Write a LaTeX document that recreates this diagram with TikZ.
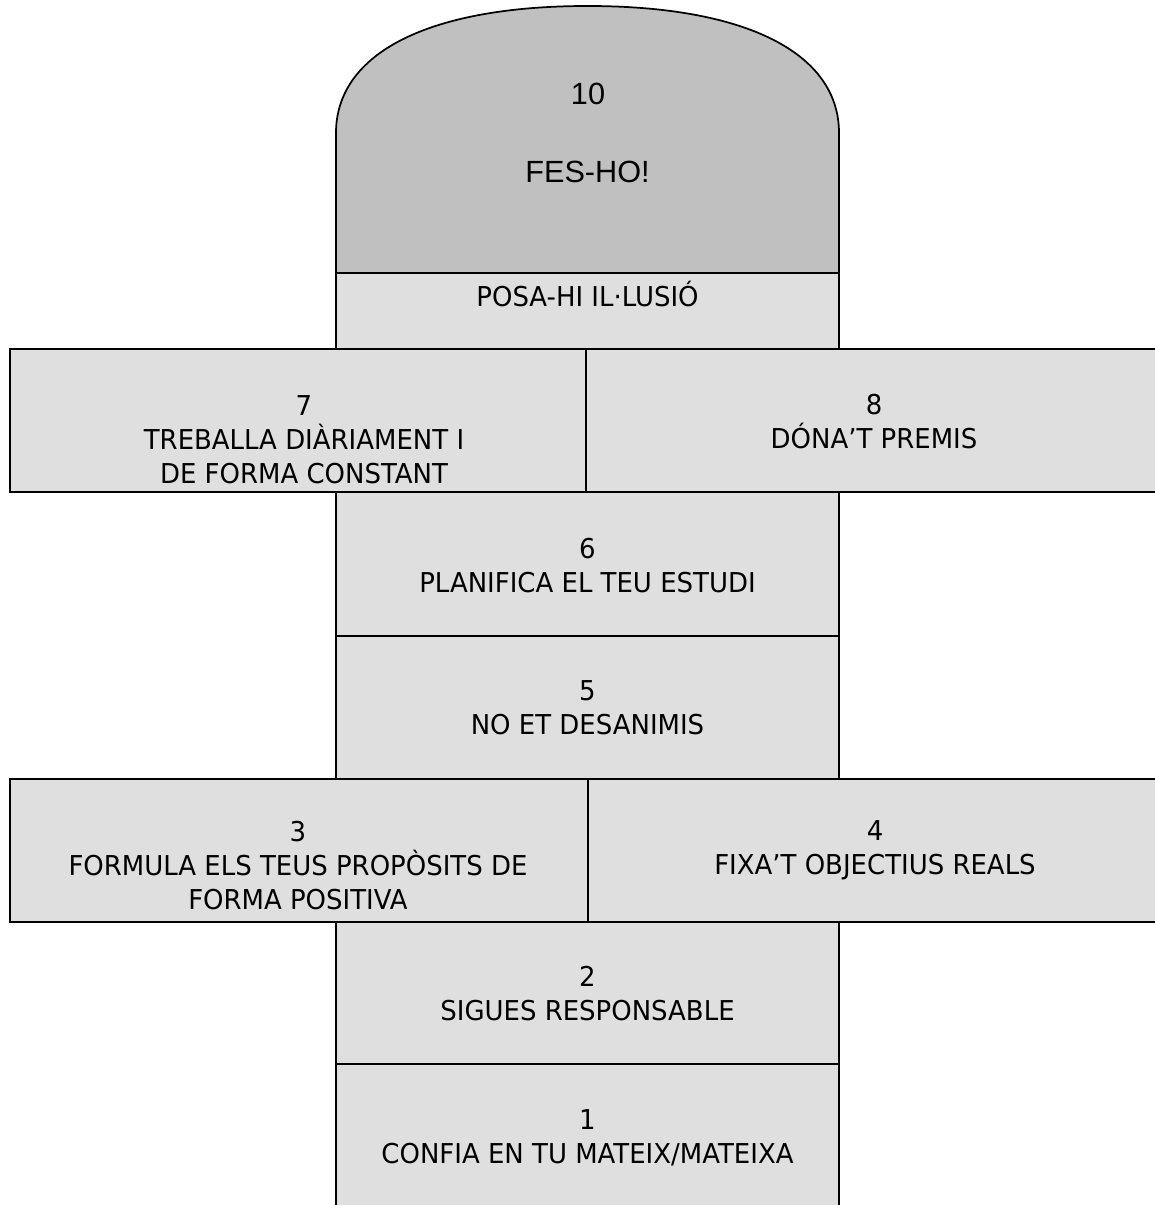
\documentclass[tikz,border=0pt]{standalone}
\usepackage{fontspec}
\setmainfont[FakeStretch=0.95]{DejaVu Sans}
\newfontfamily\arialf{Liberation Sans}
\definecolor{darkfill}{HTML}{C0C0C0}
\definecolor{lightfill}{HTML}{DFDFDF}
\tikzset{
  boxline/.style={line width=1.5pt, draw=black, fill=lightfill},
  archline/.style={line width=1.3pt, draw=black, fill=darkfill},
  lbl/.style={align=center, inner sep=0pt, font=\fontsize{20.5}{25.5}\selectfont},
  toplbl/.style={align=center, inner sep=0pt, font=\arialf\fontsize{23}{27}\selectfont}
}
\begin{document}
\begin{tikzpicture}[x=0.75pt,y=-0.75pt]
\useasboundingbox (0,0) rectangle (1155,1205);
\begin{scope}
\clip (0,0) rectangle (1155,1205);
% top arch
\draw[archline] (336,273) -- (336,133)
  .. controls (336,53) and (429,6) .. (587.5,6)
  .. controls (746,6) and (839,53) .. (839,133) -- (839,273) -- cycle;
% central column boxes
\draw[boxline] (336,273) rectangle (839,349);
\draw[boxline] (336,492) rectangle (839,636);
\draw[boxline] (336,636) rectangle (839,779);
\draw[boxline] (336,922) rectangle (839,1064);
\draw[boxline] (336,1064) rectangle (839,1215);
% wide rows
\draw[boxline] (10,349) rectangle (586,492);
\draw[boxline] (586,349) rectangle (1170,492);
\draw[boxline] (10,779) rectangle (588,922);
\draw[boxline] (588,779) rectangle (1170,922);
\end{scope}
% labels
\node[toplbl] (t10) at (588,94) {10};
\node[toplbl] (t10b) at (587.5,172) {FES-HO!};
\node[lbl] (t9) at (587.5,294.5) {POSA-HI IL·LUSIÓ};
\node[lbl] (t7) at (304,440) {7\\TREBALLA DIÀRIAMENT I\\DE FORMA CONSTANT};
\node[lbl] (t8) at (874,421.5) {8\\DÓNA’T PREMIS};
\node[lbl] (t6) at (587.5,566) {6\\PLANIFICA EL TEU ESTUDI};
\node[lbl] (t5) at (587.5,707.5) {5\\NO ET DESANIMIS};
\node[lbl] (t3) at (298,866) {3\\FORMULA ELS TEUS PROPÒSITS DE\\FORMA POSITIVA};
\node[lbl] (t4) at (875,850.5) {4\\FIXA’T OBJECTIUS REALS};
\node[lbl] (t2) at (587.5,993.5) {2\\SIGUES RESPONSABLE};
\node[lbl] (t1) at (587.5,1138) {1\\CONFIA EN TU MATEIX/MATEIXA};
\end{tikzpicture}
\end{document}
